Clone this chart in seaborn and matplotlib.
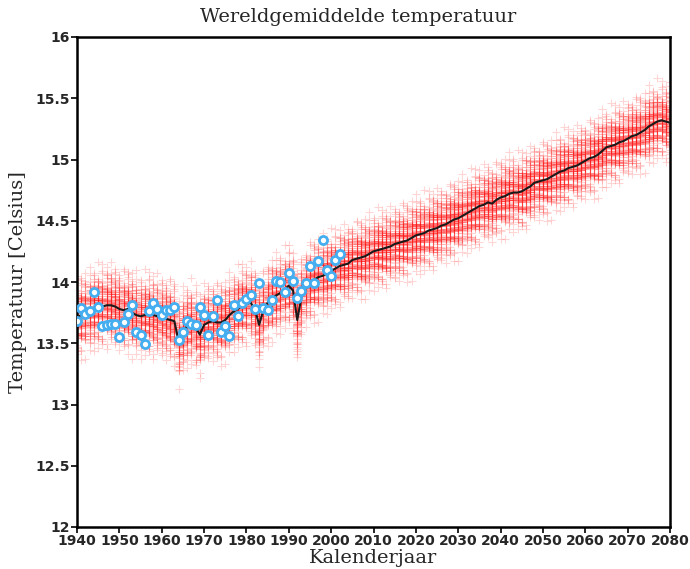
import numpy as np
import pandas as pd
import matplotlib
matplotlib.use("Agg")
import matplotlib.pyplot as plt
import seaborn as sns

# calendar years of the model runs
years = list(range(1940, 2081))

# ensemble mean (black line), one value per year
ens_mean = [
    13.71, 13.73, 13.75, 13.76, 13.78, 13.79, 13.80, 13.81, 13.81, 13.80,  # 1940s
    13.78, 13.77, 13.78, 13.75, 13.73, 13.72, 13.73, 13.74, 13.73, 13.72,  # 1950s
    13.71, 13.70, 13.69, 13.68, 13.51, 13.60, 13.64, 13.66, 13.63, 13.57,  # 1960s
    13.65, 13.67, 13.68, 13.67, 13.67, 13.69, 13.73, 13.76, 13.78, 13.81,  # 1970s
    13.82, 13.83, 13.78, 13.65, 13.77, 13.83, 13.87, 13.89, 13.91, 13.94,  # 1980s
    13.97, 13.93, 13.69, 13.88, 13.96, 14.00, 14.02, 14.04, 14.05, 14.07,  # 1990s
    14.09, 14.11, 14.13, 14.14, 14.15, 14.18, 14.19, 14.20, 14.21, 14.23,  # 2000s
    14.25, 14.26, 14.27, 14.28, 14.29, 14.31, 14.32, 14.33, 14.34, 14.36,  # 2010s
    14.38, 14.39, 14.40, 14.42, 14.43, 14.44, 14.46, 14.47, 14.49, 14.51,  # 2020s
    14.52, 14.54, 14.56, 14.58, 14.60, 14.62, 14.63, 14.65, 14.64, 14.67,  # 2030s
    14.69, 14.70, 14.72, 14.73, 14.73, 14.74, 14.76, 14.78, 14.81, 14.82,  # 2040s
    14.83, 14.84, 14.86, 14.88, 14.90, 14.91, 14.93, 14.94, 14.95, 14.97,  # 2050s
    14.99, 15.01, 15.02, 15.04, 15.07, 15.10, 15.11, 15.12, 15.14, 15.15,  # 2060s
    15.17, 15.19, 15.20, 15.22, 15.24, 15.27, 15.29, 15.31, 15.32, 15.31,  # 2070s
    15.30,                                                                 # 2080
]

# observations (blue circles) 1940-2002
obs_years = list(range(1940, 2003))
obs_temp = [
    13.68, 13.79, 13.74, 13.76, 13.92, 13.80, 13.64, 13.65, 13.66, 13.66,
    13.55, 13.67, 13.74, 13.81, 13.59, 13.57, 13.49, 13.76, 13.83, 13.78,
    13.73, 13.77, 13.77, 13.80, 13.53, 13.59, 13.68, 13.66, 13.65, 13.80,
    13.73, 13.57, 13.72, 13.85, 13.59, 13.64, 13.56, 13.81, 13.72, 13.83,
    13.86, 13.89, 13.78, 13.99, 13.79, 13.77, 13.85, 14.01, 14.00, 13.92,
    14.07, 14.01, 13.87, 13.93, 13.99, 14.13, 13.99, 14.17, 14.34, 14.10,
    14.05, 14.18, 14.23,
]

# spread of the 62 members around the mean (in units of the yearly spread)
member_offsets = [
    -2.41, -1.97, -1.75, -1.59, -1.46, -1.35, -1.25, -1.17, -1.09, -1.02,
    -0.96, -0.90, -0.84, -0.78, -0.73, -0.67, -0.62, -0.58, -0.53, -0.48,
    -0.44, -0.39, -0.35, -0.31, -0.27, -0.22, -0.18, -0.14, -0.10, -0.06,
    -0.02, 0.02, 0.06, 0.10, 0.14, 0.18, 0.22, 0.27, 0.31, 0.35,
    0.39, 0.44, 0.48, 0.53, 0.58, 0.62, 0.67, 0.73, 0.78, 0.84,
    0.90, 0.96, 1.02, 1.09, 1.17, 1.25, 1.35, 1.46, 1.59, 1.75,
    1.97, 2.41,
]
member_wiggle = [0.03, -0.02, 0.05, -0.04, 0.0, 0.02, -0.05, 0.04, -0.01, 0.01, -0.03]
# yearly spread per decade (1940s ... 2080) and wider years after eruptions
decade_spread = [0.135, 0.135, 0.135, 0.13, 0.13, 0.13, 0.125, 0.125,
                 0.125, 0.125, 0.125, 0.125, 0.125, 0.125, 0.125]
volcanic_spread = {1964: 0.14, 1965: 0.135, 1983: 0.14, 1992: 0.145, 1993: 0.135}

y_ticks = [12, 12.5, 13, 13.5, 14, 14.5, 15, 15.5, 16]
y_tick_labels = ["12", "12.5", "13", "13.5", "14", "14.5", "15", "15.5", "16"]
x_ticks = list(range(1940, 2081, 10))

assert len(ens_mean) == len(years)
assert len(obs_temp) == len(obs_years)

# build the member cloud
rows = []
for i, (yr, mu) in enumerate(zip(years, ens_mean)):
    sd = volcanic_spread.get(yr, decade_spread[(yr - 1940) // 10])
    for m, off in enumerate(member_offsets):
        w = member_wiggle[(m * 7 + i * 3) % len(member_wiggle)]
        rows.append((yr, mu + off * sd + w))
members = pd.DataFrame(rows, columns=["year", "temp"])
mean_df = pd.DataFrame({"year": years, "temp": ens_mean})
obs_df = pd.DataFrame({"year": obs_years, "temp": obs_temp})

sns.set_style("white")
plt.rcParams["font.family"] = ["DejaVu Sans"]

fig = plt.figure(figsize=(6.9, 5.69), dpi=100)
ax = fig.add_axes([77 / 690, 1 - 527 / 569, (670 - 77) / 690, (527 - 37) / 569])

red_rgba = (1.0, 0.05, 0.05, 0.17)
sns.scatterplot(data=members, x="year", y="temp", marker="+", color=red_rgba,
                edgecolor=red_rgba, s=30, linewidth=0.8, ax=ax, zorder=2)
sns.lineplot(data=mean_df, x="year", y="temp", color="#1a1a1a", linewidth=1.5,
             ax=ax, zorder=3)
sns.scatterplot(data=obs_df, x="year", y="temp", marker="o", s=34,
                facecolor="white", edgecolor="#45aef0", linewidth=2.0,
                ax=ax, zorder=4)

ax.set_xlim(1940, 2080)
ax.set_ylim(12, 16)
ax.set_xticks(x_ticks)
ax.set_xticklabels([str(t) for t in x_ticks], fontsize=10, fontweight="bold")
ax.set_yticks(y_ticks)
ax.set_yticklabels(y_tick_labels, fontsize=10, fontweight="bold")
ax.tick_params(axis="both", which="major", direction="out", length=4, width=1.2,
               color="black", pad=1, bottom=True, left=True, top=False, right=False)

for sp in ax.spines.values():
    sp.set_color("black")
    sp.set_linewidth(1.8)

ax.set_xlabel("Kalenderjaar", fontsize=14, family="DejaVu Serif")
ax.set_ylabel("Temperatuur [Celsius]", fontsize=14, family="DejaVu Serif")
ax.xaxis.set_label_coords(0.5, -0.045)
ax.yaxis.set_label_coords(-0.085, 0.5)

fig.text(358 / 690, 1 - 17 / 569, "Wereldgemiddelde temperatuur", fontsize=14,
         family="DejaVu Serif", ha="center", va="center")

fig.savefig("out.png", dpi=100)
